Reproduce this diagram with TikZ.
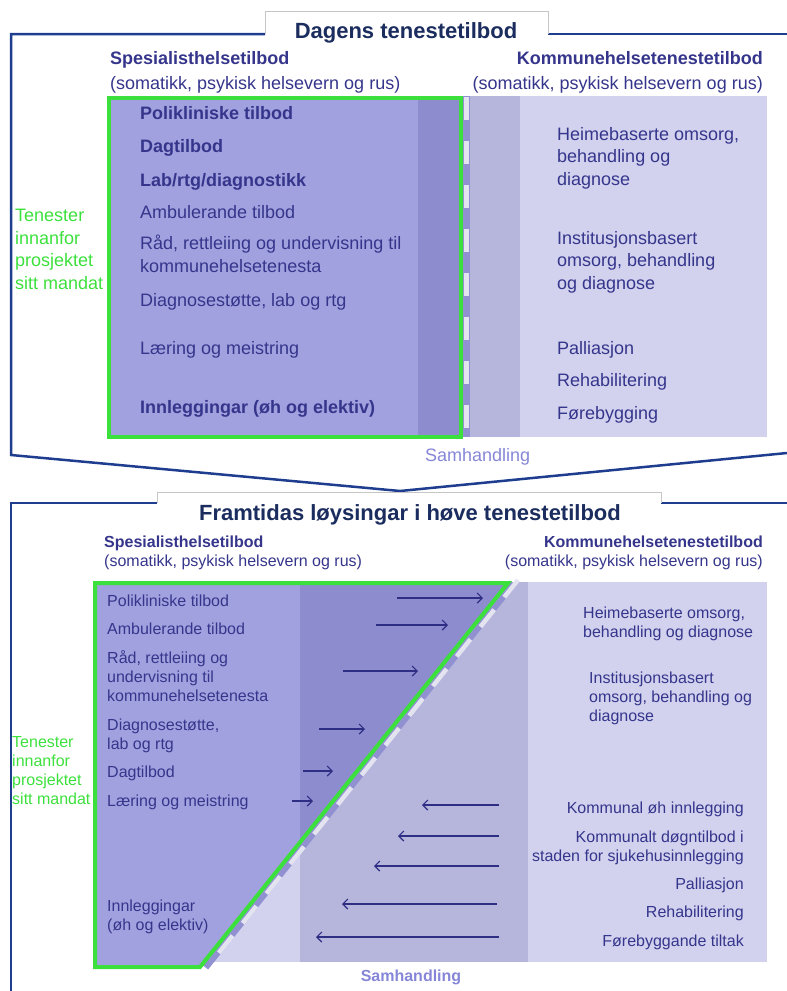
\documentclass[tikz,border=0pt]{standalone}
\usepackage{fontspec}
\setmainfont{Liberation Sans}
\usetikzlibrary{arrows,arrows.meta}

\definecolor{frameblue}{HTML}{1F3D8F}
\definecolor{titlenavy}{HTML}{1B2C5E}
\definecolor{itemblue}{HTML}{35358C}
\definecolor{arrowblue}{HTML}{2E2E84}
\definecolor{specfill}{HTML}{A2A1DF}
\definecolor{specdark}{HTML}{8C8CCF}
\definecolor{sharedband}{HTML}{B6B5DC}
\definecolor{kommfill}{HTML}{D2D2EF}
\definecolor{seamfill}{HTML}{9191D2}
\definecolor{seamdash}{HTML}{E4E4F1}
\definecolor{mandatgreen}{HTML}{3CE03C}
\definecolor{samhfont}{HTML}{8686D8}

\tikzset{
  frame/.style={draw=frameblue, line width=2.5pt},
  tab/.style={fill=white, draw=gray!45, line width=0.8pt},
  heading/.style={font=\fontsize{22}{26}\selectfont\bfseries, text=titlenavy, inner sep=0pt},
  big/.style={font=\fontsize{18}{22.5}\selectfont, text=itemblue, inner sep=0pt, align=left},
  small/.style={font=\fontsize{16}{19}\selectfont, text=itemblue, inner sep=0pt, align=left},
  mandat/.style={text=mandatgreen, inner sep=0pt, align=left, anchor=base west},
  border/.style={draw=mandatgreen, line width=4pt},
  flow/.style={draw=arrowblue, line width=1.2pt, ->, >={Straight Barb[length=5pt, width=10pt]}},
}

\begin{document}
\begin{tikzpicture}[x=1pt, y=-1pt]
\useasboundingbox (0,0) rectangle (787,991);

%% upper panel: today's services
\draw[frame] (265,34) -- (11,34) -- (11,455) -- (400,491) -- (787,453);
\draw[frame] (548,34) -- (787,34);
\draw[tab] (265,34) -- (265,11) -- (548,11) -- (548,34);
\node[heading, anchor=base] (dagens) at (406,38) {Dagens tenestetilbod};

\node[big, font=\fontsize{18}{22.5}\selectfont\bfseries, anchor=base west] (spesTop) at (110,64) {Spesialisthelsetilbod};
\node[big, anchor=base west] (spesTopSub) at (110,89) {(somatikk, psykisk helsevern og rus)};
\node[big, font=\fontsize{18}{22.5}\selectfont\bfseries, anchor=base east] (kommTop) at (763,64) {Kommunehelsetenestetilbod};
\node[big, anchor=base east] (kommTopSub) at (763,89) {(somatikk, psykisk helsevern og rus)};

\fill[kommfill] (470,96) rectangle (767,437);
\fill[sharedband] (470,96) rectangle (520,437);
\fill[seamfill] (462,96) rectangle (470,437);
\draw[seamdash, line width=5pt, dash pattern=on 23pt off 21pt] (466.5,97) -- (466.5,437);
\fill[specfill] (109,98) rectangle (461,437);
\fill[specdark] (418,98) rectangle (461,437);
\draw[border] (109,98) rectangle (461,437);

% y is the baseline of the last line
\foreach \y/\w/\txt [count=\i] in {
  119/\bfseries/{Polikliniske tilbod},
  152/\bfseries/Dagtilbod,
  186/\bfseries/{Lab/rtg/diagnostikk},
  218/\mdseries/{Ambulerande tilbod},
  272/\mdseries/{Råd, rettleiing og undervisning til\\kommunehelsetenesta},
  306/\mdseries/{Diagnosestøtte, lab og rtg},
  354/\mdseries/{Læring og meistring},
  413/\bfseries/{Innleggingar (øh og elektiv)}}
  \node[big, anchor=base west] (spes\i) at (140,\y) {\w\txt};

\foreach \y/\txt [count=\i] in {
  185/{Heimebaserte omsorg,\\behandling og\\diagnose},
  289/{Institusjonsbasert\\omsorg, behandling\\og diagnose},
  354/Palliasjon,
  386/Rehabilitering,
  419/Førebygging}
  \node[big, anchor=base west] (komm\i) at (557,\y) {\txt};

\node[big, mandat, font=\fontsize{18}{22.5}\selectfont] (mandatTop) at (15,289) {Tenester\\innanfor\\prosjektet\\sitt mandat};
\node[big, text=samhfont, anchor=base west] (samhTop) at (425,461) {Samhandling};

%% lower panel: future solutions
\draw[frame] (157,503) -- (11,503) -- (11,995);
\draw[frame] (661,503) -- (787,503);
\draw[tab] (157,503) -- (157,492) -- (661,492) -- (661,503);
\node[heading, anchor=base] (framtid) at (410,520) {Framtidas løysingar i høve tenestetilbod};

\node[small, font=\fontsize{16}{19}\selectfont\bfseries, anchor=base west] (spesBot) at (104,547) {Spesialisthelsetilbod};
\node[small, anchor=base west] (spesBotSub) at (104,566) {(somatikk, psykisk helsevern og rus)};
\node[small, font=\fontsize{16}{19}\selectfont\bfseries, anchor=base east] (kommBot) at (763,547) {Kommunehelsetenestetilbod};
\node[small, anchor=base east] (kommBotSub) at (763,566) {(somatikk, psykisk helsevern og rus)};

\fill[kommfill] (200,582) rectangle (767,962);
\fill[sharedband] (300,582) rectangle (528,962);
\draw[seamfill, line width=8pt] (513,583) -- (205,967);
\draw[seamdash, line width=4.5pt, dash pattern=on 22pt off 16pt] (518,580) -- (209,965);
\fill[specfill] (95,583) -- (508,583) -- (200,967) -- (95,967) -- cycle;
\fill[specdark] (300,583) -- (508,583) -- (300,842) -- cycle;
\draw[border, line join=miter] (95,583) -- (508,583) -- (200,967) -- (95,967) -- cycle;

\foreach \y/\txt [count=\i] in {
  606/{Polikliniske tilbod},
  634/{Ambulerande tilbod},
  701/{Råd, rettleiing og\\undervisning til\\kommunehelsetenesta},
  749/{Diagnosestøtte,\\lab og rtg},
  777/Dagtilbod,
  806/{Læring og meistring},
  930/{Innleggingar\\(øh og elektiv)}}
  \node[small, anchor=base west] (spesny\i) at (107,\y) {\txt};

\node[small, anchor=base west] (heime) at (583,637) {Heimebaserte omsorg,\\behandling og diagnose};
\node[small, anchor=base west] (inst) at (589,721) {Institusjonsbasert\\omsorg, behandling og\\diagnose};
\foreach \y/\txt [count=\i] in {
  813/{Kommunal øh innlegging},
  861/{Kommunalt døgntilbod i\\staden for sjukehusinnlegging},
  889/Palliasjon,
  917/Rehabilitering,
  946/{Førebyggande tiltak}}
  \node[small, align=right, anchor=base east] (kommny\i) at (744,\y) {\txt};

% tasks moving out to the municipality
\foreach \xa/\xb/\y [count=\i] in {397/483/598, 376/448/625, 343/418/671, 319/365/729, 303/333/771, 292/313/801} {
  \coordinate (ut\i-a) at (\xa,\y);
  \coordinate (ut\i-b) at (\xb,\y);
  \draw[flow] (ut\i-a) -- (ut\i-b);
}
% services taking over from hospital
\foreach \xa/\xb/\y [count=\i] in {499/422/805, 499/398/836, 499/374/866, 497/342/904, 499/316/937} {
  \coordinate (inn\i-a) at (\xa,\y);
  \coordinate (inn\i-b) at (\xb,\y);
  \draw[flow] (inn\i-a) -- (inn\i-b);
}

\node[small, mandat, font=\fontsize{16}{19}\selectfont] (mandatBot) at (12,804) {Tenester\\innanfor\\prosjektet\\sitt mandat};
\node[small, font=\fontsize{16}{19}\selectfont\bfseries, text=samhfont, anchor=base] (samhBot) at (411,981) {Samhandling};
\end{tikzpicture}
\end{document}
